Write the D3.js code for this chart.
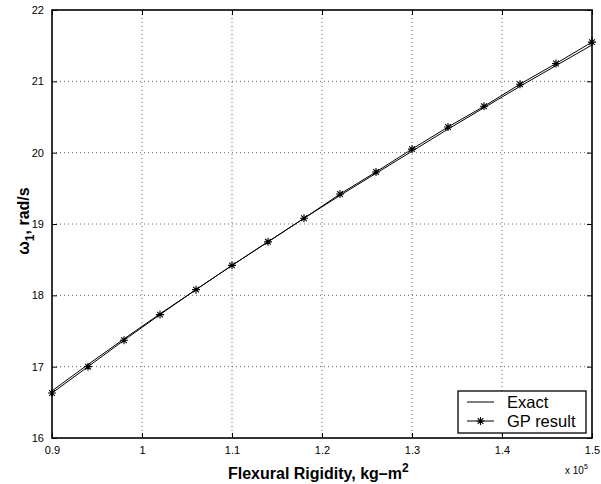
<!DOCTYPE html>
<html>
<head>
<meta charset="utf-8">
<script src="https://cdn.jsdelivr.net/npm/d3@7/dist/d3.min.js"></script>
<style>
  html, body { margin: 0; padding: 0; background: #fff; }
  svg { display: block; font-family: "Liberation Sans", Arial, Helvetica, sans-serif; }
</style>
</head>
<body>
<svg id="chart" width="601" height="484"></svg>
<script>
// Flexural rigidity (×10^5 kg·m²)
const rigidity = [0.90, 0.94, 0.98, 1.02, 1.06, 1.10, 1.14, 1.18, 1.22, 1.26, 1.30, 1.34, 1.38, 1.42, 1.46, 1.50];
// First natural frequency, exact solution (rad/s)
const exactOmega = [16.66, 17.03, 17.39, 17.74, 18.08, 18.42, 18.75, 19.08, 19.40, 19.71, 20.02, 20.33, 20.63, 20.93, 21.22, 21.51];
// First natural frequency, GP result (rad/s)
const gpOmega = [16.63, 17.00, 17.37, 17.73, 18.08, 18.42, 18.75, 19.08, 19.42, 19.73, 20.05, 20.36, 20.65, 20.96, 21.25, 21.55];

const xTicks = [0.9, 1.0, 1.1, 1.2, 1.3, 1.4, 1.5];
const xTickLabels = ["0.9", "1", "1.1", "1.2", "1.3", "1.4", "1.5"];
const yTicks = [16, 17, 18, 19, 20, 21, 22];
const legendLabels = ["Exact", "GP result"];

const svg = d3.select("#chart");
const plotL = 52, plotR = 592, plotT = 10, plotB = 438;

const x = d3.scaleLinear().domain([0.9, 1.5]).range([plotL, plotR]);
const y = d3.scaleLinear().domain([16, 22]).range([plotB, plotT]);

// grid
const grid = svg.append("g").attr("stroke", "#666").attr("stroke-width", 1).attr("stroke-dasharray", "1,3");
xTicks.slice(1, -1).forEach(v => {
  grid.append("line").attr("x1", x(v)).attr("x2", x(v)).attr("y1", plotT).attr("y2", plotB);
});
yTicks.slice(1, -1).forEach(v => {
  grid.append("line").attr("x1", plotL).attr("x2", plotR).attr("y1", y(v)).attr("y2", y(v));
});

// axes with inward ticks on all four sides
const tickLen = 5;
const axB = d3.axisBottom(x).tickValues(xTicks).tickSize(-tickLen).tickPadding(8)
  .tickFormat((d, i) => xTickLabels[i]);
const axT = d3.axisTop(x).tickValues(xTicks).tickSize(-tickLen).tickFormat("");
const axL = d3.axisLeft(y).tickValues(yTicks).tickSize(-tickLen).tickPadding(8).tickFormat(d3.format("d"));
const axR = d3.axisRight(y).tickValues(yTicks).tickSize(-tickLen).tickFormat("");

function styleAxis(g) {
  g.select(".domain").remove();
  g.selectAll(".tick line").attr("stroke", "#000").attr("stroke-width", 1);
  g.selectAll(".tick text").attr("fill", "#000").attr("font-size", 11)
    .attr("font-family", "'Liberation Sans', Arial, sans-serif");
}
svg.append("g").attr("transform", `translate(0,${plotB})`).call(axB).call(styleAxis);
svg.append("g").attr("transform", `translate(0,${plotT})`).call(axT).call(styleAxis);
svg.append("g").attr("transform", `translate(${plotL},0)`).call(axL).call(styleAxis);
svg.append("g").attr("transform", `translate(${plotR},0)`).call(axR).call(styleAxis);

// curves
const exactData = rigidity.map((r, i) => [r, exactOmega[i]]);
const gpData = rigidity.map((r, i) => [r, gpOmega[i]]);
const line = d3.line().x(d => x(d[0])).y(d => y(d[1]));

svg.append("path").datum(exactData).attr("d", line)
  .attr("fill", "none").attr("stroke", "#000").attr("stroke-width", 1);
svg.append("path").datum(gpData).attr("d", line)
  .attr("fill", "none").attr("stroke", "#000").attr("stroke-width", 1);

// asterisk markers
function asterisk(g, cx, cy, r) {
  const d = r * Math.SQRT1_2;
  const p = `M${cx - r},${cy}L${cx + r},${cy}M${cx},${cy - r}L${cx},${cy + r}` +
            `M${cx - d},${cy - d}L${cx + d},${cy + d}M${cx - d},${cy + d}L${cx + d},${cy - d}`;
  g.append("path").attr("d", p).attr("stroke", "#000").attr("stroke-width", 1.1).attr("fill", "none");
}
const markers = svg.append("g");
gpData.forEach(d => asterisk(markers, x(d[0]), y(d[1]), 4));

// plot box
svg.append("rect").attr("x", plotL).attr("y", plotT).attr("width", plotR - plotL).attr("height", plotB - plotT)
  .attr("fill", "none").attr("stroke", "#000").attr("stroke-width", 1.6);

// legend
const lg = svg.append("g");
lg.append("rect").attr("x", 458).attr("y", 391).attr("width", 128).attr("height", 42)
  .attr("fill", "#fff").attr("stroke", "#000").attr("stroke-width", 1.3);
lg.append("line").attr("x1", 467).attr("x2", 494).attr("y1", 402).attr("y2", 402)
  .attr("stroke", "#000").attr("stroke-width", 1);
lg.append("line").attr("x1", 467).attr("x2", 494).attr("y1", 421).attr("y2", 421)
  .attr("stroke", "#000").attr("stroke-width", 1);
asterisk(lg, 480.5, 421, 4);
lg.selectAll("text.leg").data(legendLabels).enter().append("text")
  .attr("x", 507).attr("y", (d, i) => 402 + i * 19).attr("dy", "0.35em")
  .attr("font-size", 16.5).attr("fill", "#000").text(d => d);

// axis labels
const xl = svg.append("text").attr("x", 228).attr("y", 479)
  .attr("font-size", 16).attr("font-weight", "bold").attr("fill", "#000");
xl.append("tspan").text("Flexural Rigidity, kg\u2013m");
xl.append("tspan").attr("dy", -7).attr("font-size", 12).text("2");

const yl = svg.append("text").attr("transform", "translate(29,221) rotate(-90)")
  .attr("text-anchor", "middle").attr("font-size", 16).attr("font-weight", "bold").attr("fill", "#000");
yl.append("tspan").text("\u03c9");
yl.append("tspan").attr("dy", 5).attr("font-size", 12).text("1");
yl.append("tspan").attr("dy", -5).text(", rad/s");

// exponent note
const ex = svg.append("text").attr("x", 565).attr("y", 474).attr("font-size", 10).attr("fill", "#000");
ex.append("tspan").text("x 10");
ex.append("tspan").attr("dy", -5).attr("font-size", 7).text("5");
</script>
</body>
</html>
